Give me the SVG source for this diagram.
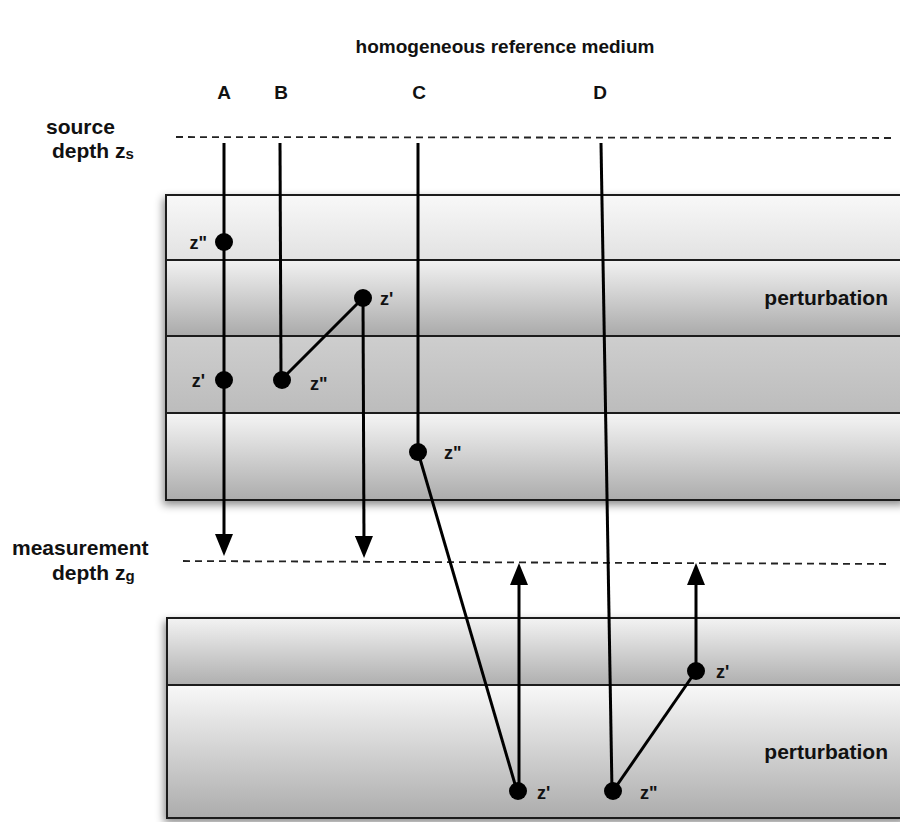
<svg xmlns="http://www.w3.org/2000/svg" width="900" height="822" viewBox="0 0 900 822">
<style>
text{font-family:"Liberation Sans",Arial,sans-serif;font-weight:bold;fill:#111}
.t19{font-size:19px}
.t21{font-size:21px}
.lab{font-size:18px}
.band{stroke:#1a1a1a;stroke-width:2}
.dash{stroke:#222;stroke-width:1.8;stroke-dasharray:7 5;fill:none}
.ray{stroke:#000;stroke-width:3;fill:none}
.dot{fill:#000}
</style>
<defs>
<linearGradient id="g1" x1="0" y1="0" x2="0" y2="1"><stop offset="0" stop-color="#f8f8f8"/><stop offset="1" stop-color="#e2e2e2"/></linearGradient>
<linearGradient id="g2" x1="0" y1="0" x2="0" y2="1"><stop offset="0" stop-color="#f2f2f2"/><stop offset="1" stop-color="#aaaaaa"/></linearGradient>
<linearGradient id="g3" x1="0" y1="0" x2="0" y2="1"><stop offset="0" stop-color="#cecece"/><stop offset="1" stop-color="#bcbcbc"/></linearGradient>
<linearGradient id="g4" x1="0" y1="0" x2="0" y2="1"><stop offset="0" stop-color="#f5f5f5"/><stop offset="1" stop-color="#acacac"/></linearGradient>
<linearGradient id="g5" x1="0" y1="0" x2="0" y2="1"><stop offset="0" stop-color="#f3f3f3"/><stop offset="1" stop-color="#afafaf"/></linearGradient>
<linearGradient id="g6" x1="0" y1="0" x2="0" y2="1"><stop offset="0" stop-color="#f8f8f8"/><stop offset="1" stop-color="#acacac"/></linearGradient>
<filter id="sh" x="-10%" y="-10%" width="120%" height="130%">
<feDropShadow dx="-2" dy="4" stdDeviation="4" flood-color="#000" flood-opacity="0.45"/>
</filter>
<marker id="ah" markerUnits="userSpaceOnUse" markerWidth="22" markerHeight="18" viewBox="0 0 22 18" refX="10" refY="9" orient="auto">
<path d="M0,0 L22,9 L0,18 z" fill="#000"/>
</marker>
</defs>
<rect width="900" height="822" fill="#fff"/>

<g id="upper-block" filter="url(#sh)">
<rect class="band" x="166" y="195" width="740" height="65" fill="url(#g1)"/>
<rect class="band" x="166" y="260" width="740" height="76" fill="url(#g2)"/>
<rect class="band" x="166" y="336" width="740" height="77" fill="url(#g3)"/>
<rect class="band" x="166" y="413" width="740" height="87" fill="url(#g4)"/>
</g>
<g id="lower-block" filter="url(#sh)">
<rect class="band" x="167" y="618" width="740" height="67" fill="url(#g5)"/>
<rect class="band" x="167" y="685" width="740" height="133" fill="url(#g6)"/>
</g>

<g id="labels">
<text class="t19" x="505" y="53" text-anchor="middle">homogeneous reference medium</text>
<text class="t19" x="224" y="99" text-anchor="middle">A</text>
<text class="t19" x="281" y="99" text-anchor="middle">B</text>
<text class="t19" x="419" y="99" text-anchor="middle">C</text>
<text class="t19" x="600" y="99" text-anchor="middle">D</text>
<text class="t21" x="46" y="134">source</text>
<text class="t21" x="52" y="158">depth z<tspan font-size="15" dy="1">s</tspan></text>
<text class="t21" x="12" y="555">measurement</text>
<text class="t21" x="52" y="580">depth z<tspan font-size="15" dy="1">g</tspan></text>
<text class="t21" x="888" y="305" text-anchor="end">perturbation</text>
<text class="t21" x="888" y="759" text-anchor="end">perturbation</text>
</g>

<g id="depth-lines">
<line class="dash" x1="176" y1="137" x2="892" y2="138"/>
<line class="dash" x1="183" y1="561" x2="890" y2="564"/>
</g>

<g id="connectors">
<line class="ray" x1="224" y1="143" x2="224" y2="544" marker-end="url(#ah)"/>
<line class="ray" x1="280" y1="143" x2="281" y2="380"/>
<line class="ray" x1="281" y1="380" x2="363" y2="298"/>
<line class="ray" x1="363" y1="298" x2="364" y2="546" marker-end="url(#ah)"/>
<line class="ray" x1="418" y1="143" x2="418" y2="452"/>
<line class="ray" x1="418" y1="452" x2="517" y2="791"/>
<line class="ray" x1="519" y1="791" x2="519" y2="575" marker-end="url(#ah)"/>
<line class="ray" x1="601" y1="143" x2="612" y2="791"/>
<line class="ray" x1="613" y1="791" x2="696" y2="671"/>
<line class="ray" x1="696" y1="671" x2="696" y2="575" marker-end="url(#ah)"/>
</g>

<g id="node-A-z2"><circle class="dot" cx="224" cy="242" r="9"/><text class="lab" x="207" y="249" text-anchor="end">z"</text></g>
<g id="node-A-z1"><circle class="dot" cx="224" cy="380" r="9"/><text class="lab" x="205" y="387" text-anchor="end">z'</text></g>
<g id="node-B-z2"><circle class="dot" cx="282" cy="380" r="9"/><text class="lab" x="310" y="390">z"</text></g>
<g id="node-B-z1"><circle class="dot" cx="363" cy="298" r="9"/><text class="lab" x="380" y="305">z'</text></g>
<g id="node-C-z2"><circle class="dot" cx="418" cy="452" r="9"/><text class="lab" x="444" y="459">z"</text></g>
<g id="node-C-z1"><circle class="dot" cx="518" cy="791" r="9"/><text class="lab" x="537" y="799">z'</text></g>
<g id="node-D-z2"><circle class="dot" cx="613" cy="791" r="9"/><text class="lab" x="640" y="799">z"</text></g>
<g id="node-D-z1"><circle class="dot" cx="696" cy="671" r="9"/><text class="lab" x="716" y="678">z'</text></g>
</svg>
